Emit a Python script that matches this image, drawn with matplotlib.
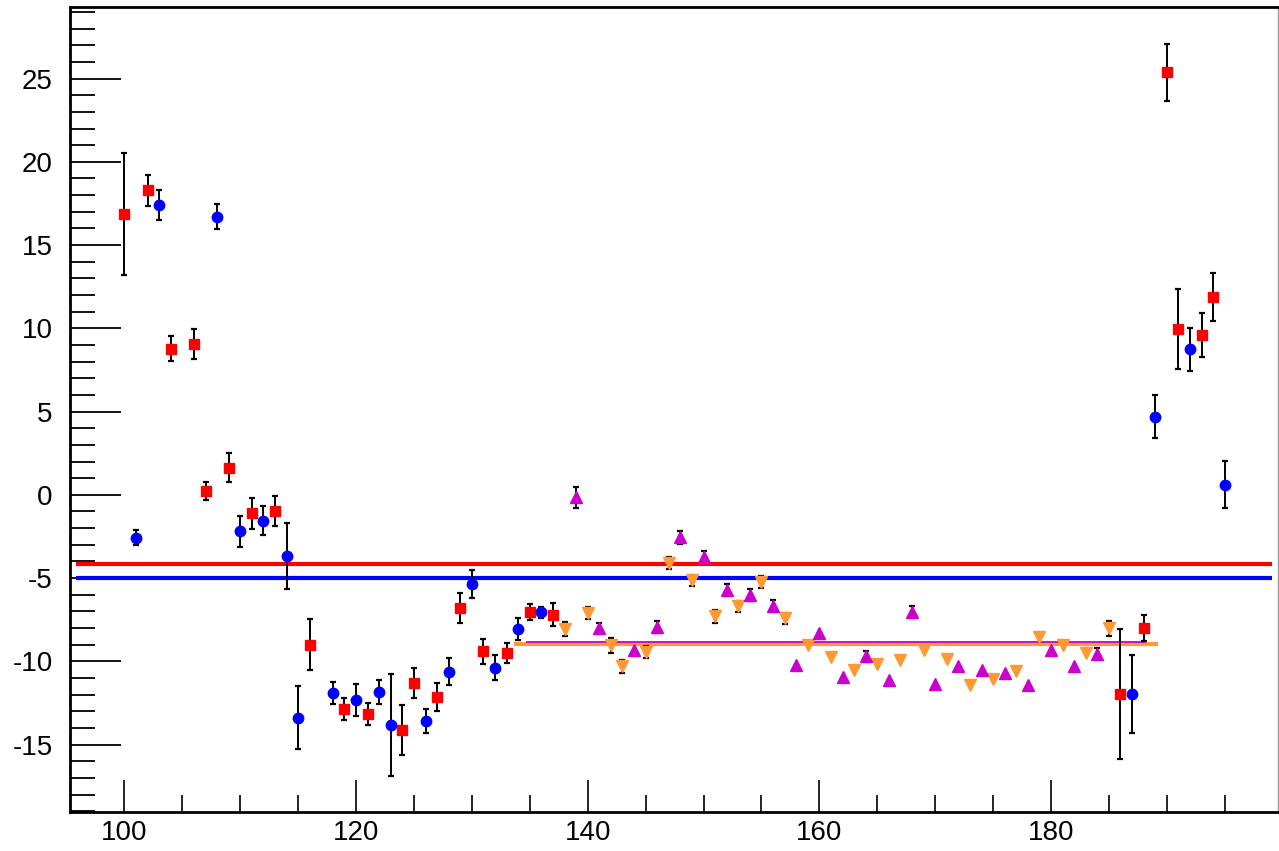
import numpy as np
import matplotlib
matplotlib.use("Agg")
import matplotlib.pyplot as plt
from matplotlib.ticker import MultipleLocator, FixedLocator

# ---- data ----
blue_x = [101, 103, 108, 110, 112, 114, 115, 118, 120, 122, 123, 126, 128, 130, 132, 134, 136, 187, 189, 192, 195]
blue_y = [-2.58, 17.4, 16.7, -2.2, -1.56, -3.68, -13.38, -11.9, -12.32, -11.86, -13.82, -13.6, -10.64, -5.34,
          -10.38, -8.04, -7.04, -11.96, 4.7, 8.74, 0.6]
blue_e = [0.45, 0.9, 0.75, 0.95, 0.86, 1.97, 1.9, 0.67, 0.95, 0.73, 3.08, 0.72, 0.81, 0.83, 0.73, 0.67, 0.33,
          2.32, 1.3, 1.3, 1.41]

red_x = [100, 102, 104, 106, 107, 109, 111, 113, 116, 119, 121, 124, 125, 127, 129, 131, 133, 135, 137,
         186, 188, 190, 191, 193, 194]
red_y = [16.86, 18.28, 8.76, 9.06, 0.24, 1.64, -1.12, -1.0, -9.0, -12.86, -13.18, -14.14, -11.3, -12.14, -6.8,
         -9.4, -9.5, -7.04, -7.2, -11.94, -8.0, 25.38, 9.96, 9.6, 11.88]
red_e = [3.67, 0.93, 0.75, 0.9, 0.54, 0.88, 0.91, 0.9, 1.54, 0.67, 0.67, 1.51, 0.88, 0.82, 0.88, 0.74, 0.58,
         0.48, 0.7, 3.91, 0.8, 1.72, 2.4, 1.3, 1.44]

mag_x = [139, 141, 144, 146, 148, 150, 152, 154, 156, 158, 160, 162, 164, 166, 168, 170, 172, 174, 176, 178,
         180, 182, 184]
mag_y = [-0.16, -8.02, -9.3, -7.92, -2.55, -3.74, -5.74, -6.0, -6.66, -10.24, -8.3, -10.96, -9.7, -11.14,
         -7.02, -11.34, -10.3, -10.54, -10.7, -11.42, -9.3, -10.26, -9.54]
mag_e = [0.62, 0.35, 0, 0.35, 0.38, 0.34, 0.36, 0.36, 0.36, 0, 0, 0, 0.35, 0, 0.35, 0, 0, 0, 0, 0, 0, 0, 0.35]

org_x = [138, 140, 142, 143, 145, 147, 149, 151, 153, 155, 157, 159, 161, 163, 165, 167, 169, 171, 173, 175,
         177, 179, 181, 183, 185]
org_y = [-8.06, -7.1, -9.04, -10.3, -9.44, -4.1, -5.14, -7.3, -6.7, -5.22, -7.42, -9.0, -9.74, -10.5, -10.16,
         -9.9, -9.3, -9.84, -11.44, -11.08, -10.6, -8.54, -9.0, -9.48, -8.0]
org_e = [0.42, 0.34, 0.46, 0.4, 0.35, 0.35, 0.34, 0.37, 0.35, 0.35, 0.35, 0, 0, 0, 0, 0, 0, 0, 0, 0, 0, 0,
         0, 0, 0.45]

# horizontal fit levels and their ranges
red_level, red_range = -4.14, (95.8, 199.1)
blue_level, blue_range = -5.02, (95.8, 199.1)
mag_level, mag_range = -8.85, (134.7, 188.2)
org_level, org_range = -8.98, (133.6, 189.2)

x_major = [100, 120, 140, 160, 180]
y_major = [-15, -10, -5, 0, 5, 10, 15, 20, 25]

# ---- style ----
plt.rcParams['font.family'] = ['Liberation Sans', 'DejaVu Sans']
RED = '#ff0000'
BLUE = '#0000ff'
MAG = '#cc00cc'
ORG = '#ff9933'

fig = plt.figure(figsize=(12.79, 8.51), dpi=100)
ax = fig.add_axes([70 / 1279, 39 / 851, 1208 / 1279, 805 / 851])

ax.hlines(red_level, *red_range, color=RED, lw=3, zorder=2)
ax.hlines(blue_level, *blue_range, color=BLUE, lw=3, zorder=2)
ax.hlines(org_level, *org_range, color=ORG, lw=3, zorder=2)
ax.hlines(mag_level, *mag_range, color=MAG, lw=1.3, zorder=2.1)


def draw(x, y, e, color, marker, ms):
    x = np.asarray(x, float)
    y = np.asarray(y, float)
    e = np.asarray(e, float)
    m = e > 0
    ax.errorbar(x[m], y[m], yerr=e[m], fmt='none', ecolor='black', elinewidth=1.4,
                capsize=2.0, capthick=1.6, zorder=3)
    ax.plot(x, y, linestyle='none', marker=marker, ms=ms, color=color, mec=color, zorder=4)


draw(org_x, org_y, org_e, ORG, 'v', 8)
draw(mag_x, mag_y, mag_e, MAG, '^', 8)
draw(red_x, red_y, red_e, RED, 's', 7)
draw(blue_x, blue_y, blue_e, BLUE, 'o', 7.5)

ax.set_xlim(95.3, 199.6)
ax.set_ylim(-19.05, 29.3)

ax.xaxis.set_major_locator(FixedLocator(x_major))
ax.xaxis.set_minor_locator(MultipleLocator(5))
ax.yaxis.set_major_locator(FixedLocator(y_major))
ax.yaxis.set_minor_locator(MultipleLocator(1))
ax.set_xticklabels([str(v) for v in x_major])
ax.set_yticklabels([str(v) for v in y_major])

ax.tick_params(axis='y', which='major', direction='in', length=37, width=1.3, pad=12.5, labelsize=20)
ax.tick_params(axis='y', which='minor', direction='in', length=18, width=1.3)
ax.tick_params(axis='x', which='major', direction='in', length=23, width=1.2, pad=6, labelsize=20)
ax.tick_params(axis='x', which='minor', direction='in', length=12, width=1.2)
ax.tick_params(top=False, right=False, which='both')

for s in ['left', 'bottom', 'top']:
    ax.spines[s].set_linewidth(2)
    ax.spines[s].set_color('black')
ax.spines['right'].set_linewidth(1)
ax.spines['right'].set_color('#999999')

fig.savefig('out.png', dpi=100)
